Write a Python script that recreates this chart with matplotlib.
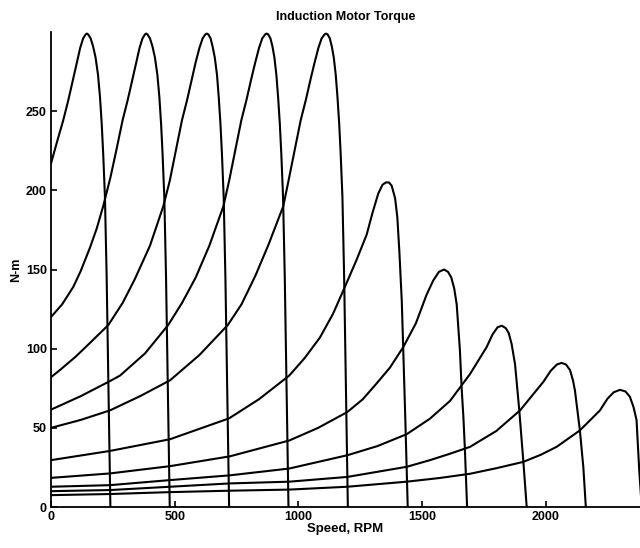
import matplotlib
matplotlib.use("Agg")
import matplotlib.pyplot as plt

plt.rcParams['font.family'] = ['Liberation Sans', 'DejaVu Sans']

# torque curves: speed (RPM) and torque (N-m)
rpm1 = [0, 25, 49, 70, 89, 105, 118, 130, 140, 145, 150, 160, 170, 180, 190, 198, 205, 211, 218, 225, 231, 240]
tq1 = [217, 231, 244, 257, 270, 281, 290, 296, 298.5, 299, 298.5, 296, 291, 284, 273, 259, 242, 223, 196, 145, 87, 0]

rpm2 = [0, 45, 90, 120, 158, 185, 211, 240, 265, 289, 310, 329, 345, 358, 370, 380, 385, 390, 400, 410, 420, 430,
        438, 445, 451, 458, 465, 471, 480]
tq2 = [120, 128, 139, 149, 164, 176, 190, 208, 226, 244, 257, 270, 281, 290, 296, 298.5, 299, 298.5, 296, 291, 284,
       273, 259, 242, 223, 196, 145, 87, 0]

rpm3 = [0, 36, 100, 160, 232, 290, 339, 400, 454, 480, 529, 550, 569, 585, 600, 613, 624, 630, 636, 645, 653, 662,
        671, 678, 685, 691, 698, 705, 711, 720]
tq3 = [82, 86.5, 95, 104, 115, 129, 144, 165, 190, 206, 244, 257, 270, 281, 290, 296, 298.5, 299, 298.5, 296, 291,
       284, 273, 259, 242, 223, 196, 145, 87, 0]

rpm4 = [0, 120, 238, 279, 380, 474, 530, 585, 640, 697, 720, 769, 790, 809, 826, 841, 854, 866, 872, 878, 887, 895,
        903, 911, 918, 925, 931, 938, 945, 951, 960]
tq4 = [61.5, 70, 79.5, 83, 97, 115, 129, 145, 165, 190, 206, 244, 257, 270, 281, 290, 296, 298.5, 299, 298.5, 296,
       291, 284, 273, 259, 242, 223, 196, 145, 87, 0]

rpm5 = [0, 120, 238, 360, 481, 600, 715, 770, 826, 880, 939, 960, 1009, 1030, 1049, 1066, 1081, 1094, 1106, 1112,
        1118, 1127, 1135, 1143, 1151, 1158, 1165, 1171, 1178, 1185, 1191, 1200]
tq5 = [50, 55, 61, 70, 80, 96, 115, 128, 146, 166, 190, 206, 244, 257, 270, 281, 290, 296, 298.5, 299,
       298.5, 296, 291, 284, 273, 259, 242, 223, 196, 145, 87, 0]

rpm6 = [0, 238, 481, 720, 840, 963, 1025, 1087, 1140, 1188, 1235, 1276, 1300, 1323, 1340, 1354, 1366, 1377, 1391,
        1400, 1408, 1418, 1424, 1432, 1442]
tq6 = [29.6, 35.4, 42.8, 56, 68, 83, 94, 107, 122, 139, 156, 172, 186, 198, 203.5, 205, 205, 203, 195,
       183, 162, 130, 99, 57, 0]

rpm7 = [0, 238, 481, 723, 963, 1080, 1198, 1260, 1316, 1370, 1424, 1475, 1518, 1545, 1568, 1589, 1605, 1618, 1630,
        1640, 1653, 1660, 1667, 1673, 1682]
tq7 = [18.4, 21.2, 25.8, 32, 42, 50, 60, 68, 78, 88, 101, 116, 134, 143, 148.5, 150, 148.5, 145, 138,
       128, 99, 75, 57, 37, 0]

rpm8 = [0, 238, 481, 723, 963, 1198, 1320, 1438, 1532, 1613, 1694, 1761, 1785, 1805, 1822, 1838, 1850, 1862, 1876,
        1893, 1909, 1923]
tq8 = [12.8, 13.8, 17, 20, 24.3, 32.7, 38.5, 46, 55.8, 67, 84, 101, 109, 113.5, 114.5, 113, 110, 103, 90, 61, 29.6,
       0]

rpm9 = [0, 238, 481, 723, 963, 1198, 1438, 1532, 1610, 1694, 1800, 1896, 1990, 2020, 2045, 2064, 2082, 2098, 2110,
        2118, 2138, 2152, 2162]
tq9 = [10, 10.7, 12.8, 14.9, 16, 19, 25.4, 29.6, 33.5, 38, 48, 61, 79, 86, 90, 91, 90, 86.5, 80, 73.6, 48.4, 25, 0]

rpm10 = [0, 238, 481, 723, 963, 1198, 1438, 1570, 1694, 1800, 1909, 1980, 2044, 2138, 2219, 2250, 2275, 2300, 2322,
         2340, 2355, 2367, 2378, 2388]
tq10 = [7.5, 8.2, 9.4, 10.3, 11, 12.8, 16, 18.3, 21, 24.5, 28.5, 33, 38, 48.4, 61, 68.5, 72.5, 74, 73, 69.7, 63, 55,
        23, 0]

speeds = [rpm1, rpm2, rpm3, rpm4, rpm5, rpm6, rpm7, rpm8, rpm9, rpm10]
torques = [tq1, tq2, tq3, tq4, tq5, tq6, tq7, tq8, tq9, tq10]

fig = plt.figure(figsize=(6.4, 5.48), dpi=100)
ax = fig.add_axes([0.0797, 0.0748, 0.9203, 0.8668])

for s, t in zip(speeds, torques):
    ax.plot(s, t, color='black', lw=1.5, solid_joinstyle='round')

ax.set_xlim(0, 2381)
ax.set_ylim(0, 300)
ax.set_xticks([0, 500, 1000, 1500, 2000])
ax.set_yticks([0, 50, 100, 150, 200, 250])
ax.spines['top'].set_visible(False)
ax.spines['right'].set_visible(False)
ax.spines['left'].set_linewidth(1.3)
ax.spines['bottom'].set_linewidth(1.3)
ax.tick_params(direction='in', length=4, width=1.2, labelsize=9, pad=3)
for lab in ax.get_xticklabels() + ax.get_yticklabels():
    lab.set_fontweight('bold')

ax.set_title('Induction Motor Torque', fontsize=9, fontweight='bold', pad=9)
ax.set_xlabel('Speed, RPM', fontsize=9.5, fontweight='bold', labelpad=0)
ax.set_ylabel('N-m', fontsize=9, fontweight='bold', labelpad=3)

fig.savefig('out.png', dpi=100)
